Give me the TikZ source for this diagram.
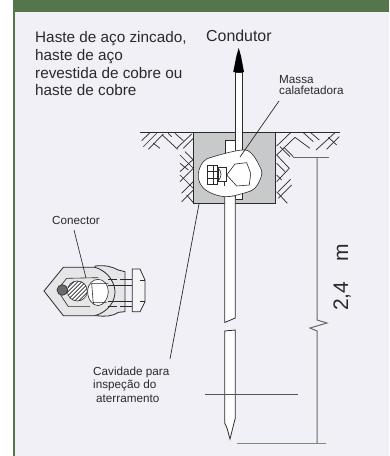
\documentclass[tikz,border=0pt]{standalone}
\usepackage{fontspec}
\setmainfont{Liberation Sans}
\definecolor{panel}{HTML}{F0F0F6}
\definecolor{hdr}{HTML}{55754B}
\definecolor{cavgray}{HTML}{C8C9CB}
\definecolor{ink}{HTML}{2A2A2A}
\definecolor{dim}{HTML}{6A6A6A}
\definecolor{conn}{HTML}{E6E6E8}
\tikzset{
  bigtext/.style={font=\fontsize{15.3}{17.5}\selectfont,text=ink,anchor=base west,inner sep=0pt,align=left},
  smalltext/.style={font=\fontsize{11.7}{13}\selectfont,text=ink,anchor=base west,inner sep=0pt,align=left},
  ln/.style={draw=ink,line width=0.8pt},
  thin ln/.style={draw=ink,line width=0.6pt},
  leader/.style={draw=ink,line width=0.7pt},
  dimln/.style={draw=dim,line width=1pt},
  hatch/.style={draw=ink,line width=0.7pt}
}
\begin{document}
\begin{tikzpicture}[x=1pt,y=-1pt]
\useasboundingbox (0,0) rectangle (389,456);
\fill[panel] (13,0) rectangle (389,456);
\fill[hdr] (13,0) rectangle (389,12);
\fill[hdr] (13,0) rectangle (14.6,456);
% texts
\node[bigtext] (t1) at (35,42) {Haste de aço zincado,};
\node[bigtext] (t2) at (35,60) {haste de aço};
\node[bigtext] (t3) at (35,78) {revestida de cobre ou};
\node[bigtext] (t4) at (35,95) {haste de cobre};
\node[bigtext,font=\fontsize{15.9}{17.5}\selectfont] (tc) at (206,41) {Condutor};
\node[smalltext] (tm1) at (279,83) {Massa};
\node[smalltext] (tm2) at (279,94) {calafetadora};
\node[smalltext] (tcon) at (52,224) {Conector};
\node[smalltext] (tv1) at (93,375) {Cavidade para};
\node[smalltext] (tv2) at (93,388) {inspeção do};
\node[smalltext] (tv3) at (96,402) {aterramento};
\node[font=\fontsize{21}{21}\selectfont,text=ink,rotate=90,anchor=base west,inner sep=0pt] (dimtxt) at (348,311) {2,4\hspace{20pt}m};
% cavity
\fill[cavgray] (193.5,132) rectangle (275.7,203);
\draw[ln] (193.5,132) -- (193.5,203) -- (275.7,203) -- (275.7,132);
\draw[ln] (140,132) -- (340,132);
% earth hatch left (zoom coordinates)
\begin{scope}[shift={(135,120)},x=0.3333pt,y=-0.3333pt]
 \foreach \a/\b/\c/\d in {
  20/62/45/38, 25/80/65/40, 40/88/85/42, 82/45/128/88, 100/40/110/50, 120/40/145/62,
  125/85/170/42, 145/85/175/55, 55/70/75/85, 150/95/175/120, 135/105/175/145,
  135/155/175/118, 135/130/160/150, 135/185/175/145, 135/165/175/205,
  140/220/175/185, 140/245/175/210, 155/225/175/248}
  {\draw[hatch] (\a,\b) -- (\c,\d);}
\end{scope}
% earth hatch right (zoom coordinates)
\begin{scope}[shift={(180,60)},x=0.3333pt,y=-0.3333pt]
 \foreach \a/\b/\c/\d in {
  290/258/332/218, 290/285/345/232, 345/232/390/265, 392/218/418/240, 370/218/400/245,
  408/270/465/218, 440/268/478/230, 300/260/330/290, 312/262/340/290,
  290/285/328/325, 328/325/290/365, 290/310/315/335, 295/395/332/358, 295/415/335/375,
  290/395/322/430, 290/345/305/360, 445/232/470/255}
  {\draw[hatch] (\a,\b) -- (\c,\d);}
\end{scope}
% conductor & arrow
\coordinate (condbot) at (238.7,152);
\coordinate (condtop) at (238.7,72);
\draw[ln,fill=white] (235,152) -- (235,72) -- (242.5,72) -- (242.5,152);
\fill[black] (238.7,48) -- (241,56) -- (244,72) -- (233.2,72) -- (236.4,56) -- cycle;
% rod upper in cavity
\draw[thin ln,fill=white] (225,196) -- (225,140) -- (235,140) -- (235,150);
\draw[ln,fill=white] (235,190) -- (235,199) -- (242,199) -- (242,190);
% mass blob
\draw[thin ln,fill=white] plot[smooth cycle,tension=0.6] coordinates {
 (241.7,150) (252,154) (260,167) (261.7,175) (255,188) (243.3,193.3)
 (225,196.7) (208.3,191.7) (200,183.3) (198.3,173.3) (203.3,161.7) (213.3,156.7)};
% connector inside
\draw[thin ln,fill=white] (226.7,175) -- (235,164) -- (246.7,162.7) -- (250.7,173.3) -- (249.3,185) -- (236.7,186) -- cycle;
\draw[thin ln] (207.3,165.3) rectangle (217.3,184.3);
\draw[thin ln] (207.3,171.5) -- (217.3,171.5) (207.3,178) -- (217.3,178) (213,165.3) -- (213,184.3);
\draw[thin ln] (218,167.7) rectangle (226.7,181);
\draw[thin ln] (218,167.7) .. controls (222,172) and (222,177) .. (218,181);
% rod below
\draw[ln] (224.7,181) -- (224.7,186);
\draw[ln,fill=white] (224.7,197) -- (224.7,322.5) -- (235.3,318) -- (235.3,197);
\draw[ln,fill=white] (224.7,423) -- (224.7,331) -- (235.3,330) -- (235.3,418) -- (233.5,425) -- (230,439) -- (227,428) -- cycle;
% cross line, dimension
\draw[draw=ink!80,line width=0.8pt] (205,394) -- (298,394);
\draw[draw=hdr!80,line width=1pt] (237,443.7) -- (326,443.7);
\draw[dimln] (293,157) -- (329,157);
\draw[dimln] (317,157) -- (317,320) -- (327,323) -- (310,328) -- (317,331) -- (317,443.7);
% leaders
\coordinate (massaA) at (279,101);
\coordinate (massaB) at (240,157);
\coordinate (cavA) at (199,204);
\coordinate (cavB) at (170,359);
\coordinate (conA) at (74,230);
\coordinate (conB) at (86,278);
\draw[leader] (massaA) -- (massaB);
\draw[leader] (cavA) -- (cavB);
% connector drawing
\begin{scope}[shift={(40,255)},x=0.3333pt,y=-0.3333pt]
 \draw[ln,fill=conn] (165,33) .. controls (200,30) and (215,35) .. (235,45) -- (255,50) -- (255,170) -- (235,172) .. controls (215,185) and (195,185) .. (170,182) -- cycle;
 \draw[ln,fill=conn] (12,108) -- (70,37) -- (165,37) .. controls (210,50) and (225,90) .. (225,110) .. controls (225,140) and (205,170) .. (165,182) -- (70,182) -- cycle;
 \draw[thin ln] (52,105) -- (80,70) -- (175,68) (52,105) -- (85,155) -- (150,155);
 \draw[thin ln,fill=white] (143,110) .. controls (143,85) and (160,73) .. (175,73) .. controls (192,73) and (205,90) .. (205,110) .. controls (205,130) and (192,150) .. (175,152) .. controls (160,152) and (143,135) .. (143,110) -- cycle;
 \draw[thin ln] (155,85) -- (160,148) (155,85) -- (205,85) (158,142) -- (200,142);
 \draw[thin ln] (205,72) -- (232,72) (205,92) -- (277,92) (205,140) -- (277,140) (205,155) -- (232,155);
 \draw[thin ln] (240,72) -- (277,72) (240,155) -- (277,155);
 \draw[ln,fill=white!60!conn] (277,42) -- (300,42) -- (315,75) -- (315,140) -- (300,170) -- (277,170) -- cycle;
 \draw[thin ln] (300,75) -- (315,75) (300,140) -- (315,140);
 \fill[dim,draw=ink,thin ln] (67,105) circle[radius=16];
 \begin{scope}
  \clip (112,108) circle[radius=30];
  \fill[white] (70,70) rectangle (150,150);
  \foreach \k in {-50,-38,...,50}
   \draw[thin ln] (112+\k-40,108+40) -- (112+\k+40,108-40) ;
 \end{scope}
 \draw[thin ln] (112,108) circle[radius=30];
\end{scope}
\draw[leader] (conA) -- (conB);
\end{tikzpicture}
\end{document}
